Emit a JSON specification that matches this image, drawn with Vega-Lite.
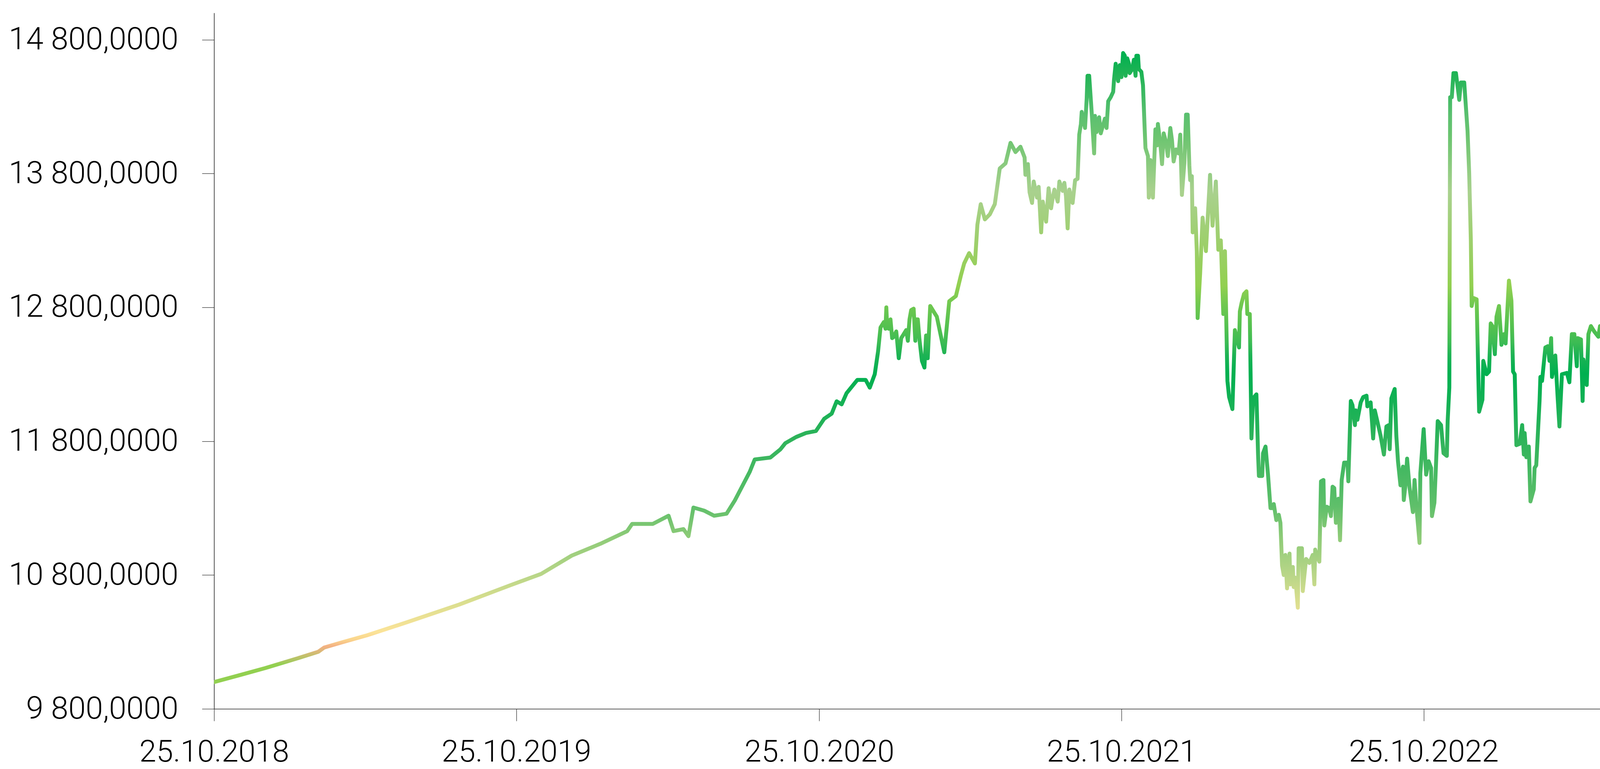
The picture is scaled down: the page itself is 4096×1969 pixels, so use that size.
{
  "$schema": "https://vega.github.io/schema/vega-lite/v6.json",
  "width": 3548,
  "height": 1782,
  "autosize": {"type": "none"},
  "padding": {"left": 548, "top": 33, "right": 0, "bottom": 154},
  "background": "white",
  "config": {"view": {"stroke": null}},
  "data": {"values": [
    {"d":"2018-10-25","v":10000},{"d":"2018-11-25","v":10052},{"d":"2018-12-26","v":10105},{"d":"2019-02-01","v":10174},
    {"d":"2019-02-28","v":10227},{"d":"2019-03-07","v":10258},{"d":"2019-03-28","v":10296},{"d":"2019-04-28","v":10350},
    {"d":"2019-06-16","v":10449},{"d":"2019-08-17","v":10579},{"d":"2019-10-18","v":10724},{"d":"2019-11-24","v":10808},
    {"d":"2019-12-31","v":10945},{"d":"2020-02-05","v":11037},{"d":"2020-03-07","v":11128},{"d":"2020-03-13","v":11182},
    {"d":"2020-04-07","v":11182},{"d":"2020-04-26","v":11243},{"d":"2020-05-02","v":11128},{"d":"2020-05-14","v":11143},
    {"d":"2020-05-20","v":11090},{"d":"2020-05-26","v":11304},{"d":"2020-06-08","v":11281},{"d":"2020-06-20","v":11243},
    {"d":"2020-07-05","v":11258},{"d":"2020-07-15","v":11357},{"d":"2020-08-02","v":11571},{"d":"2020-08-08","v":11663},
    {"d":"2020-08-27","v":11678},{"d":"2020-09-08","v":11739},{"d":"2020-09-14","v":11785},{"d":"2020-09-27","v":11831},
    {"d":"2020-10-09","v":11861},{"d":"2020-10-21","v":11876},{"d":"2020-10-31","v":11968},{"d":"2020-11-09","v":12006},
    {"d":"2020-11-15","v":12098},{"d":"2020-11-21","v":12075},{"d":"2020-11-27","v":12159},{"d":"2020-12-10","v":12258},
    {"d":"2020-12-20","v":12258},{"d":"2020-12-25","v":12200},{"d":"2020-12-31","v":12300},{"d":"2021-01-04","v":12470},
    {"d":"2021-01-07","v":12650},{"d":"2021-01-11","v":12690},{"d":"2021-01-13","v":12640},{"d":"2021-01-14","v":12800},
    {"d":"2021-01-15","v":12650},{"d":"2021-01-17","v":12640},{"d":"2021-01-19","v":12710},{"d":"2021-01-21","v":12570},
    {"d":"2021-01-23","v":12580},{"d":"2021-01-26","v":12620},{"d":"2021-01-29","v":12420},{"d":"2021-02-01","v":12570},
    {"d":"2021-02-03","v":12590},{"d":"2021-02-07","v":12630},{"d":"2021-02-09","v":12550},{"d":"2021-02-11","v":12710},
    {"d":"2021-02-13","v":12780},{"d":"2021-02-16","v":12790},{"d":"2021-02-18","v":12550},{"d":"2021-02-19","v":12710},
    {"d":"2021-02-21","v":12710},{"d":"2021-02-23","v":12560},{"d":"2021-02-26","v":12400},{"d":"2021-03-01","v":12350},
    {"d":"2021-03-03","v":12590},{"d":"2021-03-05","v":12420},{"d":"2021-03-08","v":12810},{"d":"2021-03-16","v":12730},
    {"d":"2021-03-25","v":12464},{"d":"2021-03-31","v":12846},{"d":"2021-04-08","v":12884},{"d":"2021-04-14","v":13037},
    {"d":"2021-04-18","v":13128},{"d":"2021-04-24","v":13205},{"d":"2021-05-01","v":13128},{"d":"2021-05-04","v":13418},
    {"d":"2021-05-08","v":13571},{"d":"2021-05-13","v":13457},{"d":"2021-05-19","v":13495},{"d":"2021-05-25","v":13571},
    {"d":"2021-05-31","v":13838},{"d":"2021-06-07","v":13876},{"d":"2021-06-13","v":14029},{"d":"2021-06-19","v":13960},
    {"d":"2021-06-25","v":14000},{"d":"2021-06-30","v":13920},{"d":"2021-07-01","v":13790},{"d":"2021-07-04","v":13870},
    {"d":"2021-07-06","v":13660},{"d":"2021-07-09","v":13580},{"d":"2021-07-11","v":13740},{"d":"2021-07-15","v":13620},
    {"d":"2021-07-17","v":13700},{"d":"2021-07-20","v":13360},{"d":"2021-07-22","v":13590},{"d":"2021-07-26","v":13440},
    {"d":"2021-07-29","v":13690},{"d":"2021-08-01","v":13540},{"d":"2021-08-03","v":13620},{"d":"2021-08-05","v":13680},
    {"d":"2021-08-09","v":13590},{"d":"2021-08-11","v":13740},{"d":"2021-08-15","v":13670},{"d":"2021-08-17","v":13730},
    {"d":"2021-08-19","v":13630},{"d":"2021-08-21","v":13390},{"d":"2021-08-23","v":13680},{"d":"2021-08-27","v":13580},
    {"d":"2021-08-30","v":13750},{"d":"2021-09-02","v":13760},{"d":"2021-09-04","v":14090},{"d":"2021-09-06","v":14170},
    {"d":"2021-09-07","v":14260},{"d":"2021-09-10","v":14170},{"d":"2021-09-11","v":14140},{"d":"2021-09-13","v":14360},
    {"d":"2021-09-14","v":14530},{"d":"2021-09-16","v":14530},{"d":"2021-09-19","v":14260},{"d":"2021-09-22","v":13950},
    {"d":"2021-09-23","v":14230},{"d":"2021-09-25","v":14110},{"d":"2021-09-28","v":14220},{"d":"2021-09-30","v":14100},
    {"d":"2021-10-05","v":14210},{"d":"2021-10-07","v":14140},{"d":"2021-10-09","v":14340},{"d":"2021-10-12","v":14370},
    {"d":"2021-10-15","v":14410},{"d":"2021-10-16","v":14500},{"d":"2021-10-18","v":14620},{"d":"2021-10-21","v":14490},
    {"d":"2021-10-23","v":14610},{"d":"2021-10-25","v":14520},{"d":"2021-10-27","v":14700},{"d":"2021-10-29","v":14680},
    {"d":"2021-10-30","v":14530},{"d":"2021-11-01","v":14660},{"d":"2021-11-03","v":14620},{"d":"2021-11-04","v":14550},
    {"d":"2021-11-07","v":14580},{"d":"2021-11-09","v":14650},{"d":"2021-11-11","v":14530},{"d":"2021-11-12","v":14680},
    {"d":"2021-11-14","v":14680},{"d":"2021-11-15","v":14580},{"d":"2021-11-18","v":14560},{"d":"2021-11-20","v":14460},
    {"d":"2021-11-22","v":14140},{"d":"2021-11-23","v":13990},{"d":"2021-11-26","v":13930},{"d":"2021-11-27","v":13620},
    {"d":"2021-11-29","v":13900},{"d":"2021-12-02","v":13620},{"d":"2021-12-05","v":14130},{"d":"2021-12-07","v":14010},
    {"d":"2021-12-08","v":14170},{"d":"2021-12-11","v":14020},{"d":"2021-12-13","v":13870},{"d":"2021-12-15","v":14100},
    {"d":"2021-12-18","v":14030},{"d":"2021-12-20","v":13930},{"d":"2021-12-23","v":14140},{"d":"2021-12-25","v":14050},
    {"d":"2021-12-27","v":13890},{"d":"2021-12-30","v":13980},{"d":"2022-01-02","v":13950},{"d":"2022-01-04","v":14090},
    {"d":"2022-01-06","v":13640},{"d":"2022-01-09","v":13880},{"d":"2022-01-11","v":14240},{"d":"2022-01-13","v":14240},
    {"d":"2022-01-15","v":13860},{"d":"2022-01-16","v":13750},{"d":"2022-01-18","v":13780},{"d":"2022-01-19","v":13360},
    {"d":"2022-01-22","v":13540},{"d":"2022-01-24","v":13220},{"d":"2022-01-25","v":12720},{"d":"2022-01-28","v":13050},
    {"d":"2022-01-31","v":13470},{"d":"2022-02-04","v":13220},{"d":"2022-02-09","v":13790},{"d":"2022-02-12","v":13410},
    {"d":"2022-02-16","v":13740},{"d":"2022-02-19","v":13230},{"d":"2022-02-22","v":13300},{"d":"2022-02-25","v":12750},
    {"d":"2022-02-27","v":13220},{"d":"2022-03-02","v":12250},{"d":"2022-03-04","v":12130},{"d":"2022-03-08","v":12040},
    {"d":"2022-03-11","v":12630},{"d":"2022-03-13","v":12580},{"d":"2022-03-16","v":12500},{"d":"2022-03-17","v":12770},
    {"d":"2022-03-19","v":12830},{"d":"2022-03-22","v":12900},{"d":"2022-03-25","v":12920},{"d":"2022-03-26","v":12750},
    {"d":"2022-03-29","v":12750},{"d":"2022-03-31","v":11820},{"d":"2022-04-02","v":12120},{"d":"2022-04-06","v":12150},
    {"d":"2022-04-08","v":11700},{"d":"2022-04-09","v":11540},{"d":"2022-04-13","v":11540},{"d":"2022-04-14","v":11710},
    {"d":"2022-04-17","v":11760},{"d":"2022-04-20","v":11550},{"d":"2022-04-23","v":11300},{"d":"2022-04-25","v":11300},
    {"d":"2022-04-27","v":11330},{"d":"2022-04-30","v":11210},{"d":"2022-05-03","v":11250},{"d":"2022-05-05","v":11190},
    {"d":"2022-05-07","v":10870},{"d":"2022-05-09","v":10800},{"d":"2022-05-11","v":10950},{"d":"2022-05-13","v":10700},
    {"d":"2022-05-16","v":10960},{"d":"2022-05-17","v":10730},{"d":"2022-05-20","v":10860},{"d":"2022-05-21","v":10710},
    {"d":"2022-05-23","v":10780},{"d":"2022-05-26","v":10556},{"d":"2022-05-27","v":11000},{"d":"2022-05-31","v":11000},
    {"d":"2022-06-01","v":10680},{"d":"2022-06-05","v":10920},{"d":"2022-06-09","v":10890},{"d":"2022-06-13","v":10950},
    {"d":"2022-06-15","v":10730},{"d":"2022-06-16","v":10990},{"d":"2022-06-19","v":10930},{"d":"2022-06-21","v":10900},
    {"d":"2022-06-23","v":11500},{"d":"2022-06-26","v":11510},{"d":"2022-06-27","v":11170},{"d":"2022-06-30","v":11310},
    {"d":"2022-07-03","v":11300},{"d":"2022-07-05","v":11240},{"d":"2022-07-07","v":11460},{"d":"2022-07-09","v":11450},
    {"d":"2022-07-11","v":11190},{"d":"2022-07-14","v":11370},{"d":"2022-07-16","v":11060},{"d":"2022-07-18","v":11510},
    {"d":"2022-07-21","v":11640},{"d":"2022-07-25","v":11640},{"d":"2022-07-26","v":11500},{"d":"2022-07-29","v":12100},
    {"d":"2022-07-31","v":12070},{"d":"2022-08-03","v":11920},{"d":"2022-08-04","v":12030},{"d":"2022-08-06","v":11960},
    {"d":"2022-08-10","v":12090},{"d":"2022-08-13","v":12130},{"d":"2022-08-17","v":12140},{"d":"2022-08-18","v":12060},
    {"d":"2022-08-22","v":12090},{"d":"2022-08-25","v":11820},{"d":"2022-08-27","v":12030},{"d":"2022-08-30","v":11950},
    {"d":"2022-09-03","v":11840},{"d":"2022-09-07","v":11700},{"d":"2022-09-10","v":11910},{"d":"2022-09-13","v":11920},
    {"d":"2022-09-14","v":11740},{"d":"2022-09-16","v":12120},{"d":"2022-09-20","v":12190},{"d":"2022-09-22","v":11840},
    {"d":"2022-09-24","v":11650},{"d":"2022-09-27","v":11470},{"d":"2022-09-30","v":11610},{"d":"2022-10-01","v":11360},
    {"d":"2022-10-03","v":11470},{"d":"2022-10-05","v":11670},{"d":"2022-10-08","v":11450},{"d":"2022-10-12","v":11270},
    {"d":"2022-10-14","v":11510},{"d":"2022-10-16","v":11330},{"d":"2022-10-20","v":11040},{"d":"2022-10-21","v":11560},
    {"d":"2022-10-25","v":11890},{"d":"2022-10-28","v":11550},{"d":"2022-10-31","v":11650},{"d":"2022-11-03","v":11600},
    {"d":"2022-11-04","v":11240},{"d":"2022-11-07","v":11340},{"d":"2022-11-09","v":11640},{"d":"2022-11-11","v":11950},
    {"d":"2022-11-15","v":11920},{"d":"2022-11-18","v":11710},{"d":"2022-11-22","v":11690},{"d":"2022-11-23","v":11950},
    {"d":"2022-11-25","v":12200},{"d":"2022-11-26","v":14370},{"d":"2022-11-28","v":14370},{"d":"2022-11-30","v":14550},
    {"d":"2022-12-03","v":14550},{"d":"2022-12-07","v":14350},{"d":"2022-12-09","v":14480},{"d":"2022-12-13","v":14480},
    {"d":"2022-12-15","v":14300},{"d":"2022-12-17","v":14120},{"d":"2022-12-19","v":13800},{"d":"2022-12-21","v":13300},
    {"d":"2022-12-22","v":12810},{"d":"2022-12-24","v":12870},{"d":"2022-12-28","v":12860},{"d":"2022-12-31","v":12020},
    {"d":"2023-01-04","v":12110},{"d":"2023-01-05","v":12400},{"d":"2023-01-09","v":12300},{"d":"2023-01-12","v":12320},
    {"d":"2023-01-14","v":12680},{"d":"2023-01-16","v":12660},{"d":"2023-01-19","v":12450},{"d":"2023-01-21","v":12730},
    {"d":"2023-01-24","v":12810},{"d":"2023-01-27","v":12520},{"d":"2023-01-30","v":12600},{"d":"2023-02-01","v":12530},
    {"d":"2023-02-05","v":13000},{"d":"2023-02-08","v":12850},{"d":"2023-02-10","v":12320},{"d":"2023-02-12","v":12300},
    {"d":"2023-02-14","v":11770},{"d":"2023-02-18","v":11780},{"d":"2023-02-21","v":11920},{"d":"2023-02-23","v":11700},
    {"d":"2023-02-24","v":11860},{"d":"2023-02-26","v":11680},{"d":"2023-03-01","v":11760},{"d":"2023-03-03","v":11350},
    {"d":"2023-03-07","v":11440},{"d":"2023-03-08","v":11600},{"d":"2023-03-10","v":11620},{"d":"2023-03-14","v":12100},
    {"d":"2023-03-15","v":12280},{"d":"2023-03-17","v":12250},{"d":"2023-03-21","v":12500},{"d":"2023-03-24","v":12510},
    {"d":"2023-03-26","v":12400},{"d":"2023-03-28","v":12570},{"d":"2023-03-29","v":12280},{"d":"2023-04-02","v":12440},
    {"d":"2023-04-05","v":12110},{"d":"2023-04-07","v":11910},{"d":"2023-04-10","v":12300},{"d":"2023-04-16","v":12310},
    {"d":"2023-04-19","v":12240},{"d":"2023-04-22","v":12600},{"d":"2023-04-25","v":12600},{"d":"2023-04-28","v":12360},
    {"d":"2023-04-29","v":12570},{"d":"2023-05-03","v":12560},{"d":"2023-05-05","v":12100},{"d":"2023-05-06","v":12410},
    {"d":"2023-05-10","v":12220},{"d":"2023-05-12","v":12600},{"d":"2023-05-15","v":12660},{"d":"2023-05-19","v":12620},
    {"d":"2023-05-24","v":12580},{"d":"2023-05-26","v":12660}
  ]},
  "mark": {
    "type": "line",
    "strokeWidth": 10,
    "strokeJoin": "round",
    "strokeCap": "round",
    "clip": true,
    "stroke": {
      "gradient": "linear", "x1": 0, "y1": 0, "x2": 0, "y2": 1,
      "stops": [
        {"offset": 0.0, "color": "#00b050"},
        {"offset": 0.03, "color": "#1db354"},
        {"offset": 0.10, "color": "#5cc070"},
        {"offset": 0.13, "color": "#6ac46f"},
        {"offset": 0.22, "color": "#a9d18e"},
        {"offset": 0.31, "color": "#9ccf68"},
        {"offset": 0.37, "color": "#92d050"},
        {"offset": 0.40, "color": "#70c850"},
        {"offset": 0.44, "color": "#50c050"},
        {"offset": 0.46, "color": "#3cbc54"},
        {"offset": 0.48, "color": "#1db354"},
        {"offset": 0.51, "color": "#00b050"},
        {"offset": 0.61, "color": "#2db35a"},
        {"offset": 0.72, "color": "#5fbf6a"},
        {"offset": 0.77, "color": "#8ecb78"},
        {"offset": 0.83, "color": "#b9d688"},
        {"offset": 0.87, "color": "#d8de8e"},
        {"offset": 0.92, "color": "#fbe398"},
        {"offset": 0.933, "color": "#fad48c"},
        {"offset": 0.943, "color": "#f4b183"},
        {"offset": 0.951, "color": "#dcb878"},
        {"offset": 0.958, "color": "#c4c06c"},
        {"offset": 0.967, "color": "#a8c860"},
        {"offset": 0.972, "color": "#92d050"},
        {"offset": 1.0, "color": "#92d050"}
      ]
    }
  },
  "encoding": {
    "x": {
      "field": "d", "type": "temporal",
      "scale": {"type": "utc", "domain": [{"year": 2018, "month": 10, "date": 25, "utc": true}, {"year": 2023, "month": 5, "date": 26, "utc": true}]},
      "axis": {
        "values": [
          {"year": 2018, "month": 10, "date": 25, "utc": true},
          {"year": 2019, "month": 10, "date": 25, "utc": true},
          {"year": 2020, "month": 10, "date": 25, "utc": true},
          {"year": 2021, "month": 10, "date": 25, "utc": true},
          {"year": 2022, "month": 10, "date": 25, "utc": true}
        ],
        "format": "%d.%m.%Y",
        "title": null, "grid": false,
        "tickSize": 31, "tickWidth": 1.2, "tickColor": "#262626",
        "domainColor": "#262626", "domainWidth": 1.6,
        "labelFont": "Roboto", "labelFontWeight": 300, "labelFontSize": 78, "labelColor": "#000000",
        "labelPadding": 41, "labelFlush": false, "labelOverlap": false, "labelLimit": 0
      }
    },
    "y": {
      "field": "v", "type": "quantitative",
      "scale": {"domain": [9800, 15000], "nice": false, "zero": false},
      "axis": {
        "values": [9800, 10800, 11800, 12800, 13800, 14800],
        "labelExpr": "replace(replace(format(datum.value, ',.4f'), ',', ' '), '.', ',')",
        "title": null, "grid": false,
        "tickSize": 31, "tickWidth": 1.2, "tickColor": "#262626",
        "domainColor": "#262626", "domainWidth": 1.6,
        "labelFont": "Roboto", "labelFontWeight": 300, "labelFontSize": 80, "labelColor": "#000000",
        "labelPadding": 61, "labelOverlap": false, "labelLimit": 0
      }
    }
  }
}
